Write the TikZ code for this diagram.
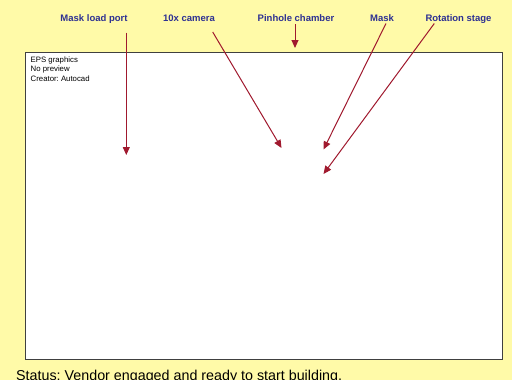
\documentclass[tikz,border=0pt]{standalone}
\usepackage{fontspec}
\setmainfont{Liberation Sans}
\usetikzlibrary{arrows.meta}
\definecolor{bgyellow}{RGB}{255,250,168}
\definecolor{labelblue}{RGB}{46,49,146}
\definecolor{arrowred}{RGB}{160,25,46}
\definecolor{framegray}{RGB}{64,64,64}
\tikzset{
  lbl/.style={text=labelblue, font=\fontsize{9.5}{11}\selectfont\bfseries, anchor=base, inner sep=0pt},
  pointer/.style={draw=arrowred, line width=1pt, -{Triangle[length=8pt,width=7pt]}},
  epsnote/.style={font=\fontsize{7.8}{9.5}\selectfont, anchor=base west, inner sep=0pt},
}
\begin{document}
\frenchspacing
\begin{tikzpicture}[x=1pt,y=-1pt]
\fill[bgyellow] (0,0) rectangle (512,380);
\useasboundingbox (0,0) rectangle (512,380);
\begin{scope}
\clip (0,0) rectangle (512,380);
\node[draw=framegray, fill=white, line width=1pt, minimum width=477pt, minimum height=307pt, inner sep=0pt, anchor=north west] (frame) at (25,52) {};
\node[epsnote] (eps1) at (30.5,62) {EPS graphics};
\node[epsnote] (eps2) at (30.5,71.5) {No preview};
\node[epsnote] (eps3) at (30.5,81) {Creator: Autocad};
\node[anchor=base west, inner sep=0pt, font=\fontsize{14.3}{16}\selectfont] (status) at (16,380.5) {Status: Vendor engaged and ready to start building.};

\node[lbl] (mlp) at (94,21) {Mask load port};
\node[lbl] (cam) at (189,21) {10x camera};
\node[lbl] (pin) at (296,21) {Pinhole chamber};
\node[lbl] (mask) at (382,21) {Mask};
\node[lbl] (rot) at (458.5,21) {Rotation stage};

\coordinate (mlpS) at (126.3,32.5);
\coordinate (mlpT) at (126.3,155);
\coordinate (camS) at (212.7,32);
\coordinate (camT) at (281.5,148);
\coordinate (pinS) at (295,24);
\coordinate (pinT) at (295,48);
\coordinate (maskS) at (386,23.5);
\coordinate (maskT) at (323.5,149.5);
\coordinate (rotS) at (434.3,23.5);
\coordinate (rotT) at (323.5,174);

\draw[pointer] (mlpS) -- (mlpT);
\draw[pointer] (camS) -- (camT);
\draw[pointer] (pinS) -- (pinT);
\draw[pointer] (maskS) -- (maskT);
\draw[pointer] (rotS) -- (rotT);
\end{scope}
\end{tikzpicture}
\end{document}
